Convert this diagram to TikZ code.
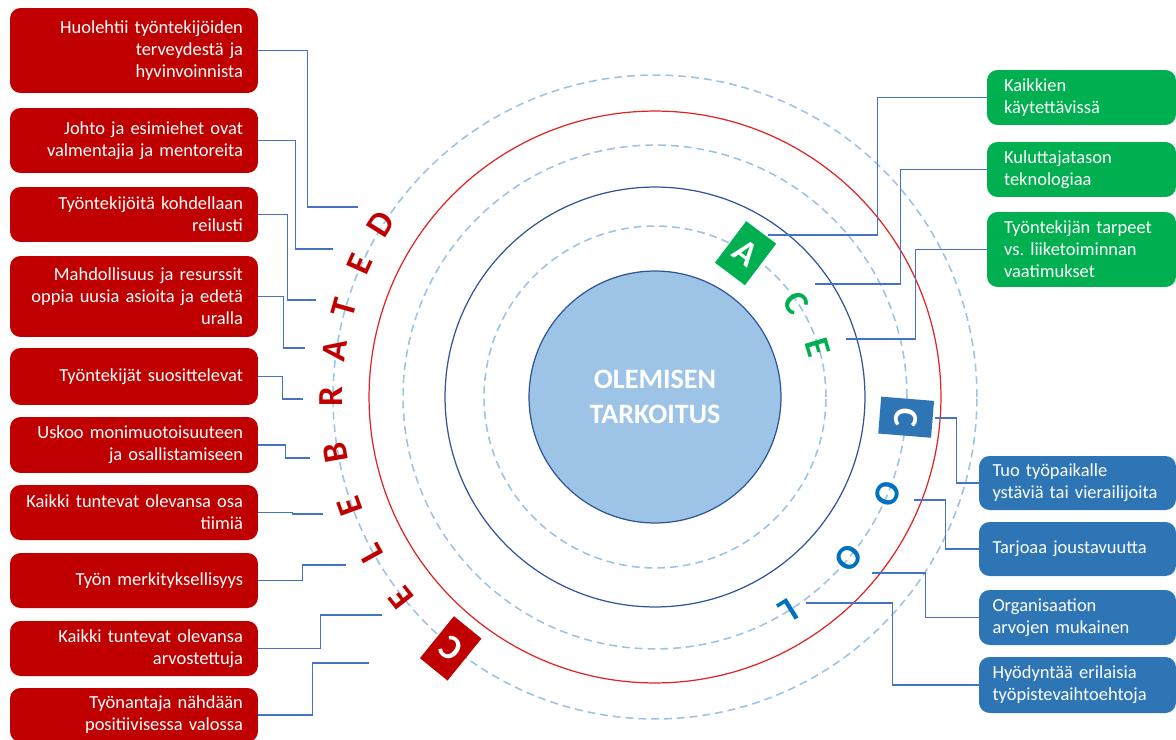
\documentclass[tikz,border=0pt]{standalone}
\usepackage{fontspec}
\setmainfont{Carlito}
\usetikzlibrary{positioning,calc}
\definecolor{boxred}{HTML}{C00000}
\definecolor{boxgreen}{HTML}{00B050}
\definecolor{boxblue}{HTML}{2E75B6}
\definecolor{coolblue}{HTML}{0070C0}
\definecolor{ringdash}{HTML}{9DC3E6}
\definecolor{ringblue}{HTML}{2F5597}
\definecolor{ringred}{HTML}{E02424}
\definecolor{linkblue}{HTML}{4472C4}
\tikzset{textbox/.style={text=white,rounded corners=6pt,inner ysep=2pt,font=\fontsize{10.5}{12.6}\selectfont}}
\tikzset{redbox/.style={textbox,fill=boxred,minimum width=4.96cm,inner xsep=0.3cm,text width=4.36cm,align=right}}
\tikzset{greenbox/.style={textbox,fill=boxgreen,minimum width=3.78cm,inner xsep=0.34cm,text width=3.1cm,align=left}}
\tikzset{bluebox/.style={textbox,fill=boxblue,minimum width=3.94cm,inner xsep=0.27cm,text width=3.4cm,align=left}}
\tikzset{link/.style={draw=linkblue,line width=0.7pt}}
\tikzset{ringdashed/.style={draw=ringdash,line width=0.9pt,dash pattern=on 4.5pt off 2.8pt}}
\tikzset{letter/.style={inner sep=0pt,font=\fontsize{20}{20}\selectfont\bfseries}}
\tikzset{celebchar/.style={letter,text=boxred}}
\tikzset{acechar/.style={letter,text=boxgreen}}
\tikzset{coolchar/.style={letter,text=coolblue}}
\tikzset{celebbox/.style={letter,text=white,fill=boxred,minimum width=0.71cm,minimum height=1.08cm}}
\tikzset{acebox/.style={letter,text=white,fill=boxgreen,minimum width=0.75cm,minimum height=1.04cm}}
\tikzset{coolbox/.style={letter,text=white,fill=boxblue,minimum width=0.74cm,minimum height=1.06cm}}
\begin{document}
\begin{tikzpicture}[x=0.02cm,y=-0.02cm]
\useasboundingbox (0,0) rectangle (1176,740);
\coordinate (o) at (655,397);
% rings
\draw[ringdashed] (o) circle (6.44cm);
\draw[ringred,line width=0.7pt] (o) circle (5.72cm);
\draw[ringdashed] (o) circle (5.04cm);
\draw[ringblue,line width=0.7pt] (o) circle (4.2cm);
\draw[ringdashed] (o) circle (3.42cm);
\node[circle,fill=ringdash,draw=ringblue,line width=0.7pt,minimum size=5.04cm,align=center,text=white,
  font=\fontsize{16}{20}\selectfont\bfseries] (core) at (o) {OLEMISEN\\TARKOITUS};

% left boxes
\node[redbox,minimum height=1.7cm] (r1) at (134,50.5) {Huolehtii työntekijöiden\\terveydestä ja\\hyvinvoinnista};
\node[redbox,minimum height=1.3cm] (r2) at (134,140.5) {Johto ja esimiehet ovat\\valmentajia ja mentoreita};
\node[redbox,minimum height=1.1cm] (r3) at (134,214.5) {Työntekijöitä kohdellaan\\reilusti};
\node[redbox,minimum height=1.62cm] (r4) at (134,296.5) {Mahdollisuus ja resurssit\\oppia uusia asioita ja edetä\\uralla};
\node[redbox,minimum height=1.14cm] (r5) at (134,376.5) {Työntekijät suosittelevat};
\node[redbox,minimum height=1.12cm] (r6) at (134,445) {Uskoo monimuotoisuuteen\\ja osallistamiseen};
\node[redbox,minimum height=1.1cm] (r7) at (134,512.5) {Kaikki tuntevat olevansa osa\\tiimiä};
\node[redbox,minimum height=1.1cm] (r8) at (134,580.5) {Työn merkityksellisyys};
\node[redbox,minimum height=1.1cm] (r9) at (134,648.5) {Kaikki tuntevat olevansa\\arvostettuja};
\node[redbox,minimum height=1.08cm] (r10) at (134,715) {Työnantaja nähdään\\positiivisessa valossa};

% right boxes
\node[greenbox,minimum height=1.1cm] (g1) at (1081.5,97.5) {Kaikkien\\käytettävissä};
\node[greenbox,minimum height=1.1cm] (g2) at (1081.5,169.5) {Kuluttajatason\\teknologiaa};
\node[greenbox,minimum height=1.5cm] (g3) at (1081.5,249.5) {Työntekijän tarpeet\\vs.\ liiketoiminnan\\vaatimukset};
\node[bluebox,minimum height=1.08cm] (c1) at (1077.5,483) {Tuo työpaikalle\\ystäviä tai vierailijoita};
\node[bluebox,minimum height=1.08cm] (c2) at (1077.5,549) {Tarjoaa joustavuutta};
\node[bluebox,minimum height=1.1cm] (c3) at (1077.5,617.5) {Organisaation\\arvojen mukainen};
\node[bluebox,minimum height=1.12cm] (c4) at (1077.5,685) {Hyödyntää erilaisia\\työpistevaihtoehtoja};

% connector ends
\coordinate (er1) at (358,207);
\coordinate (er2) at (333,249);
\coordinate (er3) at (316,300);
\coordinate (er4) at (305,348);
\coordinate (er5) at (303,399);
\coordinate (er6) at (310,458);
\coordinate (er7) at (323,514);
\coordinate (er8) at (346,565);
\coordinate (er9) at (382,615);
\coordinate (er10) at (369,663);
\coordinate (eg1) at (768,235);
\coordinate (eg2) at (815,284);
\coordinate (eg3) at (846,339);
\coordinate (ec1) at (935,418);
\coordinate (ec2) at (914,500);
\coordinate (ec3) at (872,573);
\coordinate (ec4) at (806,603);

\draw[link] (r1.east) -- ++(49,0) |- (er1);
\draw[link] (r2.east) -- ++(37,0) |- (er2);
\draw[link] (r3.east) -- ++(29,0) |- (er3);
\draw[link] (r4.east) -- ++(25,0) |- (er4);
\draw[link] (r5.east) -- ++(24,0) |- (er5);
\draw[link] (r6.east) -- ++(27,0) |- (er6);
\draw[link] (r7.east) -- ++(34,0) |- (er7);
\draw[link] (r8.east) -- ++(44,0) |- (er8);
\draw[link] (r9.east) -- ++(62,0) |- (er9);
\draw[link] (r10.east) -- ++(54,0) |- (er10);
\draw[link] (g1.west) -- ++(-109,0) |- (eg1);
\draw[link] (g2.west) -- ++(-86,0) |- (eg2);
\draw[link] (g3.west) -- ++(-71,0) |- (eg3);
\draw[link] (c1.west) -- ++(-22,0) |- (ec1);
\draw[link] (c2.west) -- ++(-33,0) |- (ec2);
\draw[link] (c3.west) -- ++(-53,0) |- (ec3);
\draw[link] (c4.west) -- ++(-86,0) |- (ec4);

% letters on the rings
\foreach \ch/\ang [count=\i] in {D/147.7,E/155.7,T/164,A/171.7,R/180,B/190,E/199.8,L/208.8,E/218.4}
  \node[celebchar,rotate=\ang-90] (cel\i) at ($(o)+(\ang:6.48cm)$) {\ch};
\node[celebbox,rotate=141] (celC) at ($(o)+(230.9:6.48cm)$) {C};
\node[acebox,rotate=-37] (aceA) at ($(o)+(57.8:3.4cm)$) {A};
\foreach \ch/\ang [count=\i] in {C/33.7,E/16.8}
  \node[acechar,rotate=\ang-90] (ace\i) at ($(o)+(\ang:3.4cm)$) {\ch};
\node[coolbox,rotate=-94.6] (coolC) at ($(o)+(-4.6:5.04cm)$) {C};
\foreach \ch/\ang [count=\i] in {O/-22.5,O/-39.7,L/-58}
  \node[coolchar,rotate=\ang-90] (cool\i) at ($(o)+(\ang:5.04cm)$) {\ch};
\end{tikzpicture}
\end{document}
